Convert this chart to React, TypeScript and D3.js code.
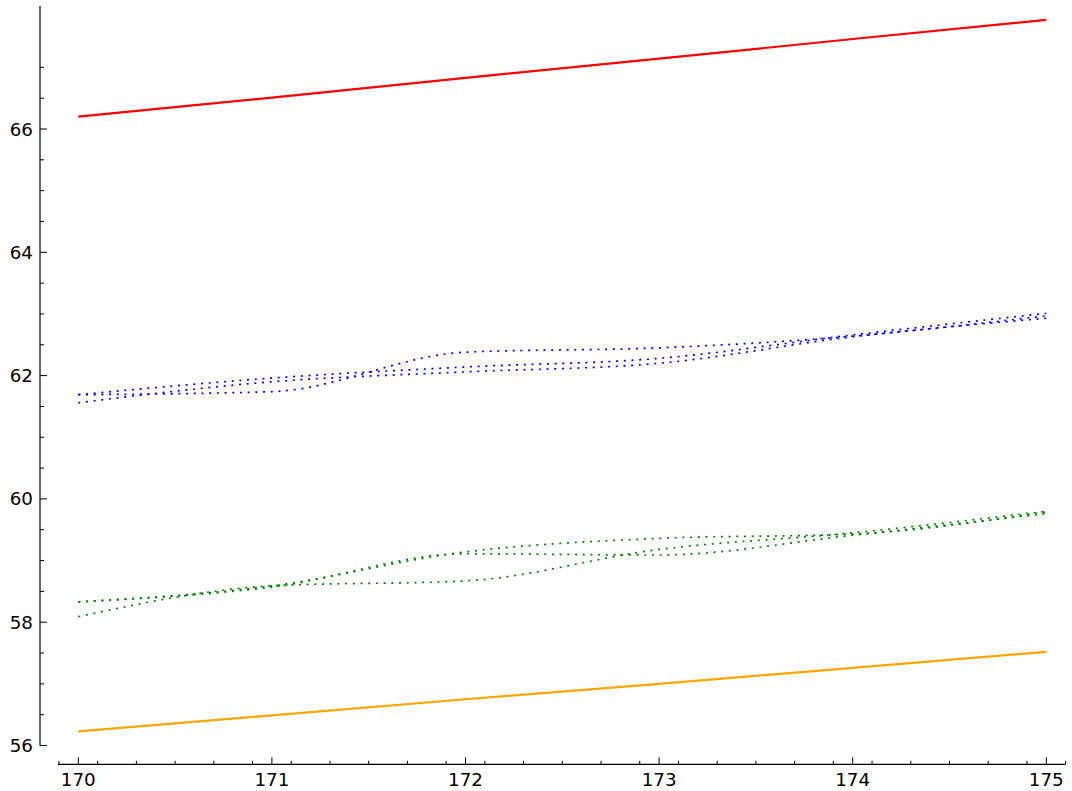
import * as d3 from "d3";

// x positions shared by every series
const xs = [170, 171, 172, 173, 174, 175];

const redLine = [66.2, 66.51, 66.83, 67.14, 67.46, 67.77];
const orangeLine = [56.23, 56.49, 56.75, 57.0, 57.26, 57.52];

const blueLines = [
  [61.69, 61.74, 62.38, 62.45, 62.64, 62.97],
  [61.56, 61.9, 62.06, 62.2, 62.63, 62.93],
  [61.69, 61.96, 62.14, 62.28, 62.66, 63.01],
];

const greenLines = [
  [58.33, 58.59, 59.14, 59.36, 59.43, 59.79],
  [58.33, 58.57, 59.11, 59.09, 59.41, 59.76],
  [58.09, 58.59, 58.67, 59.18, 59.45, 59.8],
];

const xMajor = [170, 171, 172, 173, 174, 175];
const yMajor = [56, 58, 60, 62, 64, 66];

export default function App() {
  const width = 1072;
  const height = 791;

  const x = d3.scaleLinear().domain([170, 175]).range([78.3, 1046.3]);
  const y = d3.scaleLinear().domain([56, 66]).range([745.5, 129]);

  const xAxisY = 764.3;
  const yAxisX = 40;

  const xMinor = d3.range(169.9, 175.11, 0.2).filter(
    v => !xMajor.some(m => Math.abs(m - v) < 1e-6)
  );
  const yMinor = d3.range(56.5, 67.01, 0.5).filter(
    v => !yMajor.some(m => Math.abs(m - v) < 1e-6)
  );

  const line = d3
    .line<number>()
    .x((_, i) => x(xs[i]))
    .y(d => y(d));
  const smooth = d3
    .line<number>()
    .x((_, i) => x(xs[i]))
    .y(d => y(d))
    .curve(d3.curveMonotoneX);

  const font = "DejaVu Sans, sans-serif";

  return (
    <svg
      width={width}
      height={height}
      style={{ position: "absolute", left: 0, top: 0, background: "#fff" }}
    >
      {/* series */}
      <path d={line(redLine) ?? ""} fill="none" stroke="#ff0000" strokeWidth={2.2} />
      <path d={line(orangeLine) ?? ""} fill="none" stroke="#ffa500" strokeWidth={2.2} />
      {blueLines.map((s, i) => (
        <path
          key={"b" + i}
          d={smooth(s) ?? ""}
          fill="none"
          stroke="#0000ff"
          strokeWidth={1.7}
          strokeDasharray="2 5.7"
        />
      ))}
      {greenLines.map((s, i) => (
        <path
          key={"g" + i}
          d={smooth(s) ?? ""}
          fill="none"
          stroke="#008000"
          strokeWidth={1.7}
          strokeDasharray="2 5.7"
        />
      ))}

      {/* y axis */}
      <line x1={yAxisX} x2={yAxisX} y1={6} y2={y(56)} stroke="#000" strokeWidth={1.2} />
      {yMajor.map(v => (
        <g key={"ym" + v}>
          <line x1={yAxisX} x2={yAxisX + 7} y1={y(v)} y2={y(v)} stroke="#000" strokeWidth={1} />
          <text
            x={33}
            y={y(v)}
            textAnchor="end"
            dominantBaseline="central"
            fontFamily={font}
            fontSize={18.3}
          >
            {v}
          </text>
        </g>
      ))}
      {yMinor.map(v => (
        <line key={"yn" + v} x1={yAxisX} x2={yAxisX + 4} y1={y(v)} y2={y(v)} stroke="#000" strokeWidth={1} />
      ))}

      {/* x axis */}
      <line x1={58} x2={1065.7} y1={xAxisY} y2={xAxisY} stroke="#000" strokeWidth={1.2} />
      {xMajor.map(v => (
        <g key={"xm" + v}>
          <line x1={x(v)} x2={x(v)} y1={xAxisY} y2={xAxisY - 7} stroke="#000" strokeWidth={1} />
          <text x={x(v)} y={786} textAnchor="middle" fontFamily={font} fontSize={18.3}>
            {v}
          </text>
        </g>
      ))}
      {xMinor.map(v => (
        <line key={"xn" + v} x1={x(v)} x2={x(v)} y1={xAxisY} y2={xAxisY - 3.5} stroke="#000" strokeWidth={1} />
      ))}
    </svg>
  );
}
